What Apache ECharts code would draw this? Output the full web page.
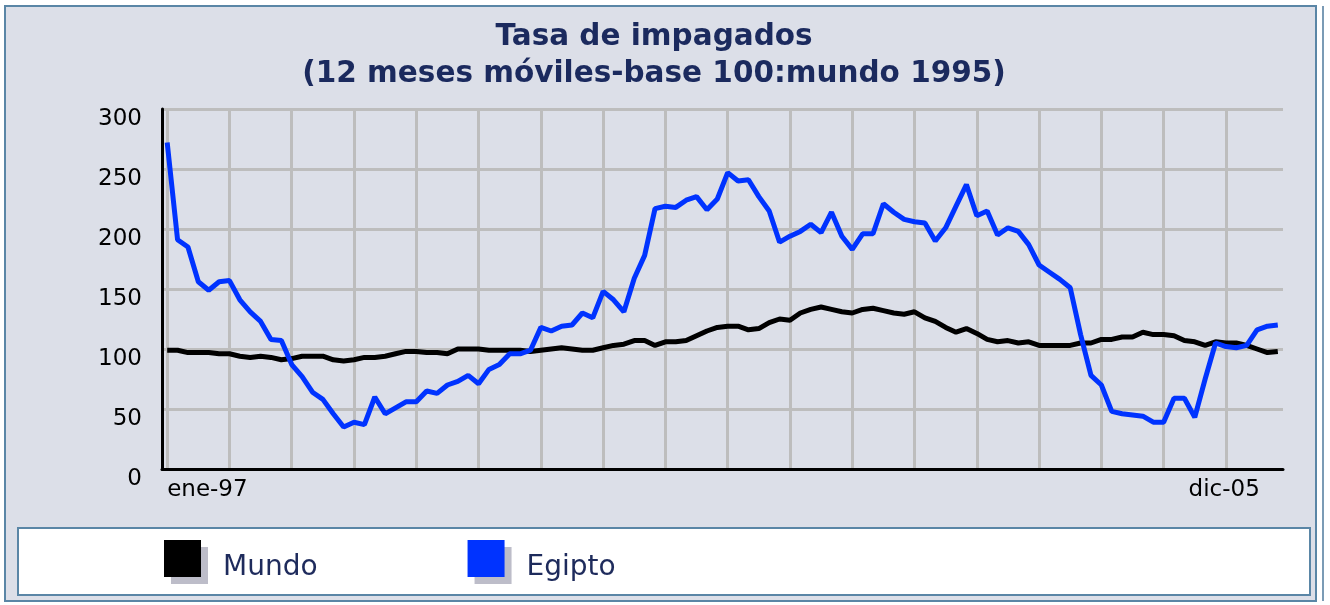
<!DOCTYPE html>
<html>
<head>
<meta charset="utf-8">
<script src="https://cdn.jsdelivr.net/npm/echarts@6/dist/echarts.min.js"></script>
<style>
  html, body { margin: 0; background: #fff; }
  #chart { width: 1330px; height: 605px; }
</style>
</head>
<body>
<div id="chart"></div>
<script>
// meses ene-97 .. dic-05
const meses = ['ene', 'feb', 'mar', 'abr', 'may', 'jun', 'jul', 'ago', 'sep', 'oct', 'nov', 'dic'];
const anios = ['97', '98', '99', '00', '01', '02', '03', '04', '05'];
const categorias = [];
anios.forEach(a => meses.forEach(m => categorias.push(m + '-' + a)));
const etiquetasX = ['ene-97', 'dic-05'];

const mundo = [
  99, 99, 97, 97, 97, 96, 96, 94, 93, 94, 93, 91,
  92, 94, 94, 94, 91, 90, 91, 93, 93, 94, 96, 98,
  98, 97, 97, 96, 100, 100, 100, 99, 99, 99, 99, 98,
  99, 100, 101, 100, 99, 99, 101, 103, 104, 107, 107, 103,
  106, 106, 107, 111, 115, 118, 119, 119, 116, 117, 122, 125,
  124, 130, 133, 135, 133, 131, 130, 133, 134, 132, 130, 129,
  131, 126, 123, 118, 114, 117, 113, 108, 106, 107, 105, 106,
  103, 103, 103, 103, 105, 105, 108, 108, 110, 110, 114, 112,
  112, 111, 107, 106, 103, 106, 105, 105, 103, 100, 97, 98
];

const egipto = [
  272, 191, 185, 156, 149, 156, 157, 141, 131, 123, 108, 107,
  87, 77, 64, 58, 46, 35, 39, 37, 60, 46, 51, 56,
  56, 65, 63, 70, 73, 78, 71, 83, 87, 96, 96, 99,
  118, 115, 119, 120, 130, 126, 148, 141, 131, 159, 178, 217,
  219, 218, 224, 227, 216, 225, 247, 240, 241, 227, 215, 189,
  194, 198, 204, 197, 214, 194, 183, 196, 196, 221, 214, 208,
  206, 205, 190, 201, 219, 237, 211, 215, 195, 201, 198, 187,
  170, 164, 158, 151, 112, 78, 70, 48, 46, 45, 44, 39,
  39, 59, 59, 43, 75, 105, 102, 101, 103, 116, 119, 120
];

const fuente = 'DejaVu Sans';
const azulMarco = '#5A86A6';
const gris = '#BDBDBD';

const chart = echarts.init(document.getElementById('chart'));

const option = {
  animation: false,
  backgroundColor: '#ffffff',
  title: {
    text: 'Tasa de impagados\n(12 meses móviles-base 100:mundo 1995)',
    left: 649,
    textAlign: 'center',
    top: 14,
    padding: 5,
    textStyle: {
      fontFamily: fuente,
      fontWeight: 'bold',
      fontSize: 29.5,
      lineHeight: 37,
      color: '#1B2A5E'
    }
  },
  graphic: [
    {
      type: 'rect',
      z: -10,
      shape: { x: 5, y: 6, width: 1311, height: 595 },
      style: { fill: '#DCDFE8', stroke: azulMarco, lineWidth: 2 }
    },
    {
      type: 'rect',
      z: -10,
      shape: { x: 1322, y: 6, width: 2, height: 595 },
      style: { fill: '#7B9BB5' }
    },
    {
      type: 'rect',
      z: -5,
      shape: { x: 18, y: 528, width: 1292, height: 67 },
      style: { fill: '#ffffff', stroke: azulMarco, lineWidth: 2 }
    }
  ],
  legend: {
    data: ['Mundo', 'Egipto'],
    left: 164,
    top: 540,
    padding: 0,
    icon: 'rect',
    itemWidth: 37,
    itemHeight: 37,
    itemGap: 150,
    selectedMode: false,
    itemStyle: {
      shadowColor: '#BDBDC9',
      shadowOffsetX: 7,
      shadowOffsetY: 7,
      shadowBlur: 0
    },
    formatter: '{t|{name}}',
    textStyle: {
      fontFamily: fuente,
      fontSize: 28,
      color: '#1E2B5C',
      rich: {
        t: { fontFamily: fuente, fontSize: 28, color: '#1E2B5C', padding: [18, 0, 0, 17] }
      }
    }
  },
  grid: {
    left: 162,
    right: 47,
    top: 109,
    bottom: 136
  },
  xAxis: {
    type: 'category',
    data: categorias,
    boundaryGap: true,
    axisLine: { lineStyle: { color: '#000', width: 3 } },
    axisTick: { show: false },
    splitLine: {
      show: true,
      interval: 5,
      alignWithLabel: true,
      lineStyle: { color: gris, width: 3 }
    },
    axisLabel: {
      interval: (i, v) => etiquetasX.includes(v),
      alignMinLabel: 'left',
      alignMaxLabel: 'right',
      margin: 10,
      fontFamily: fuente,
      fontSize: 23,
      color: '#000',
      formatter: v => v === 'dic-05' ? '{r|' + v + '}' : v,
      rich: {
        r: { fontFamily: fuente, fontSize: 23, color: '#000', padding: [0, 18, 0, 0] }
      }
    }
  },
  yAxis: {
    type: 'value',
    min: 0,
    max: 300,
    interval: 50,
    axisLine: { show: true, lineStyle: { color: '#000', width: 3 } },
    axisTick: { show: false },
    splitLine: { lineStyle: { color: gris, width: 3 } },
    axisLabel: {
      margin: 20,
      fontFamily: fuente,
      fontSize: 23,
      color: '#000',
      verticalAlign: 'top',
      lineHeight: 20
    }
  },
  series: [
    {
      name: 'Mundo',
      type: 'line',
      data: mundo,
      symbol: 'none',
      color: '#000000',
      lineStyle: { color: '#000000', width: 5 }
    },
    {
      name: 'Egipto',
      type: 'line',
      data: egipto,
      symbol: 'none',
      color: '#0033FF',
      lineStyle: { color: '#0033FF', width: 5 }
    }
  ]
};

chart.setOption(option);
</script>
</body>
</html>
